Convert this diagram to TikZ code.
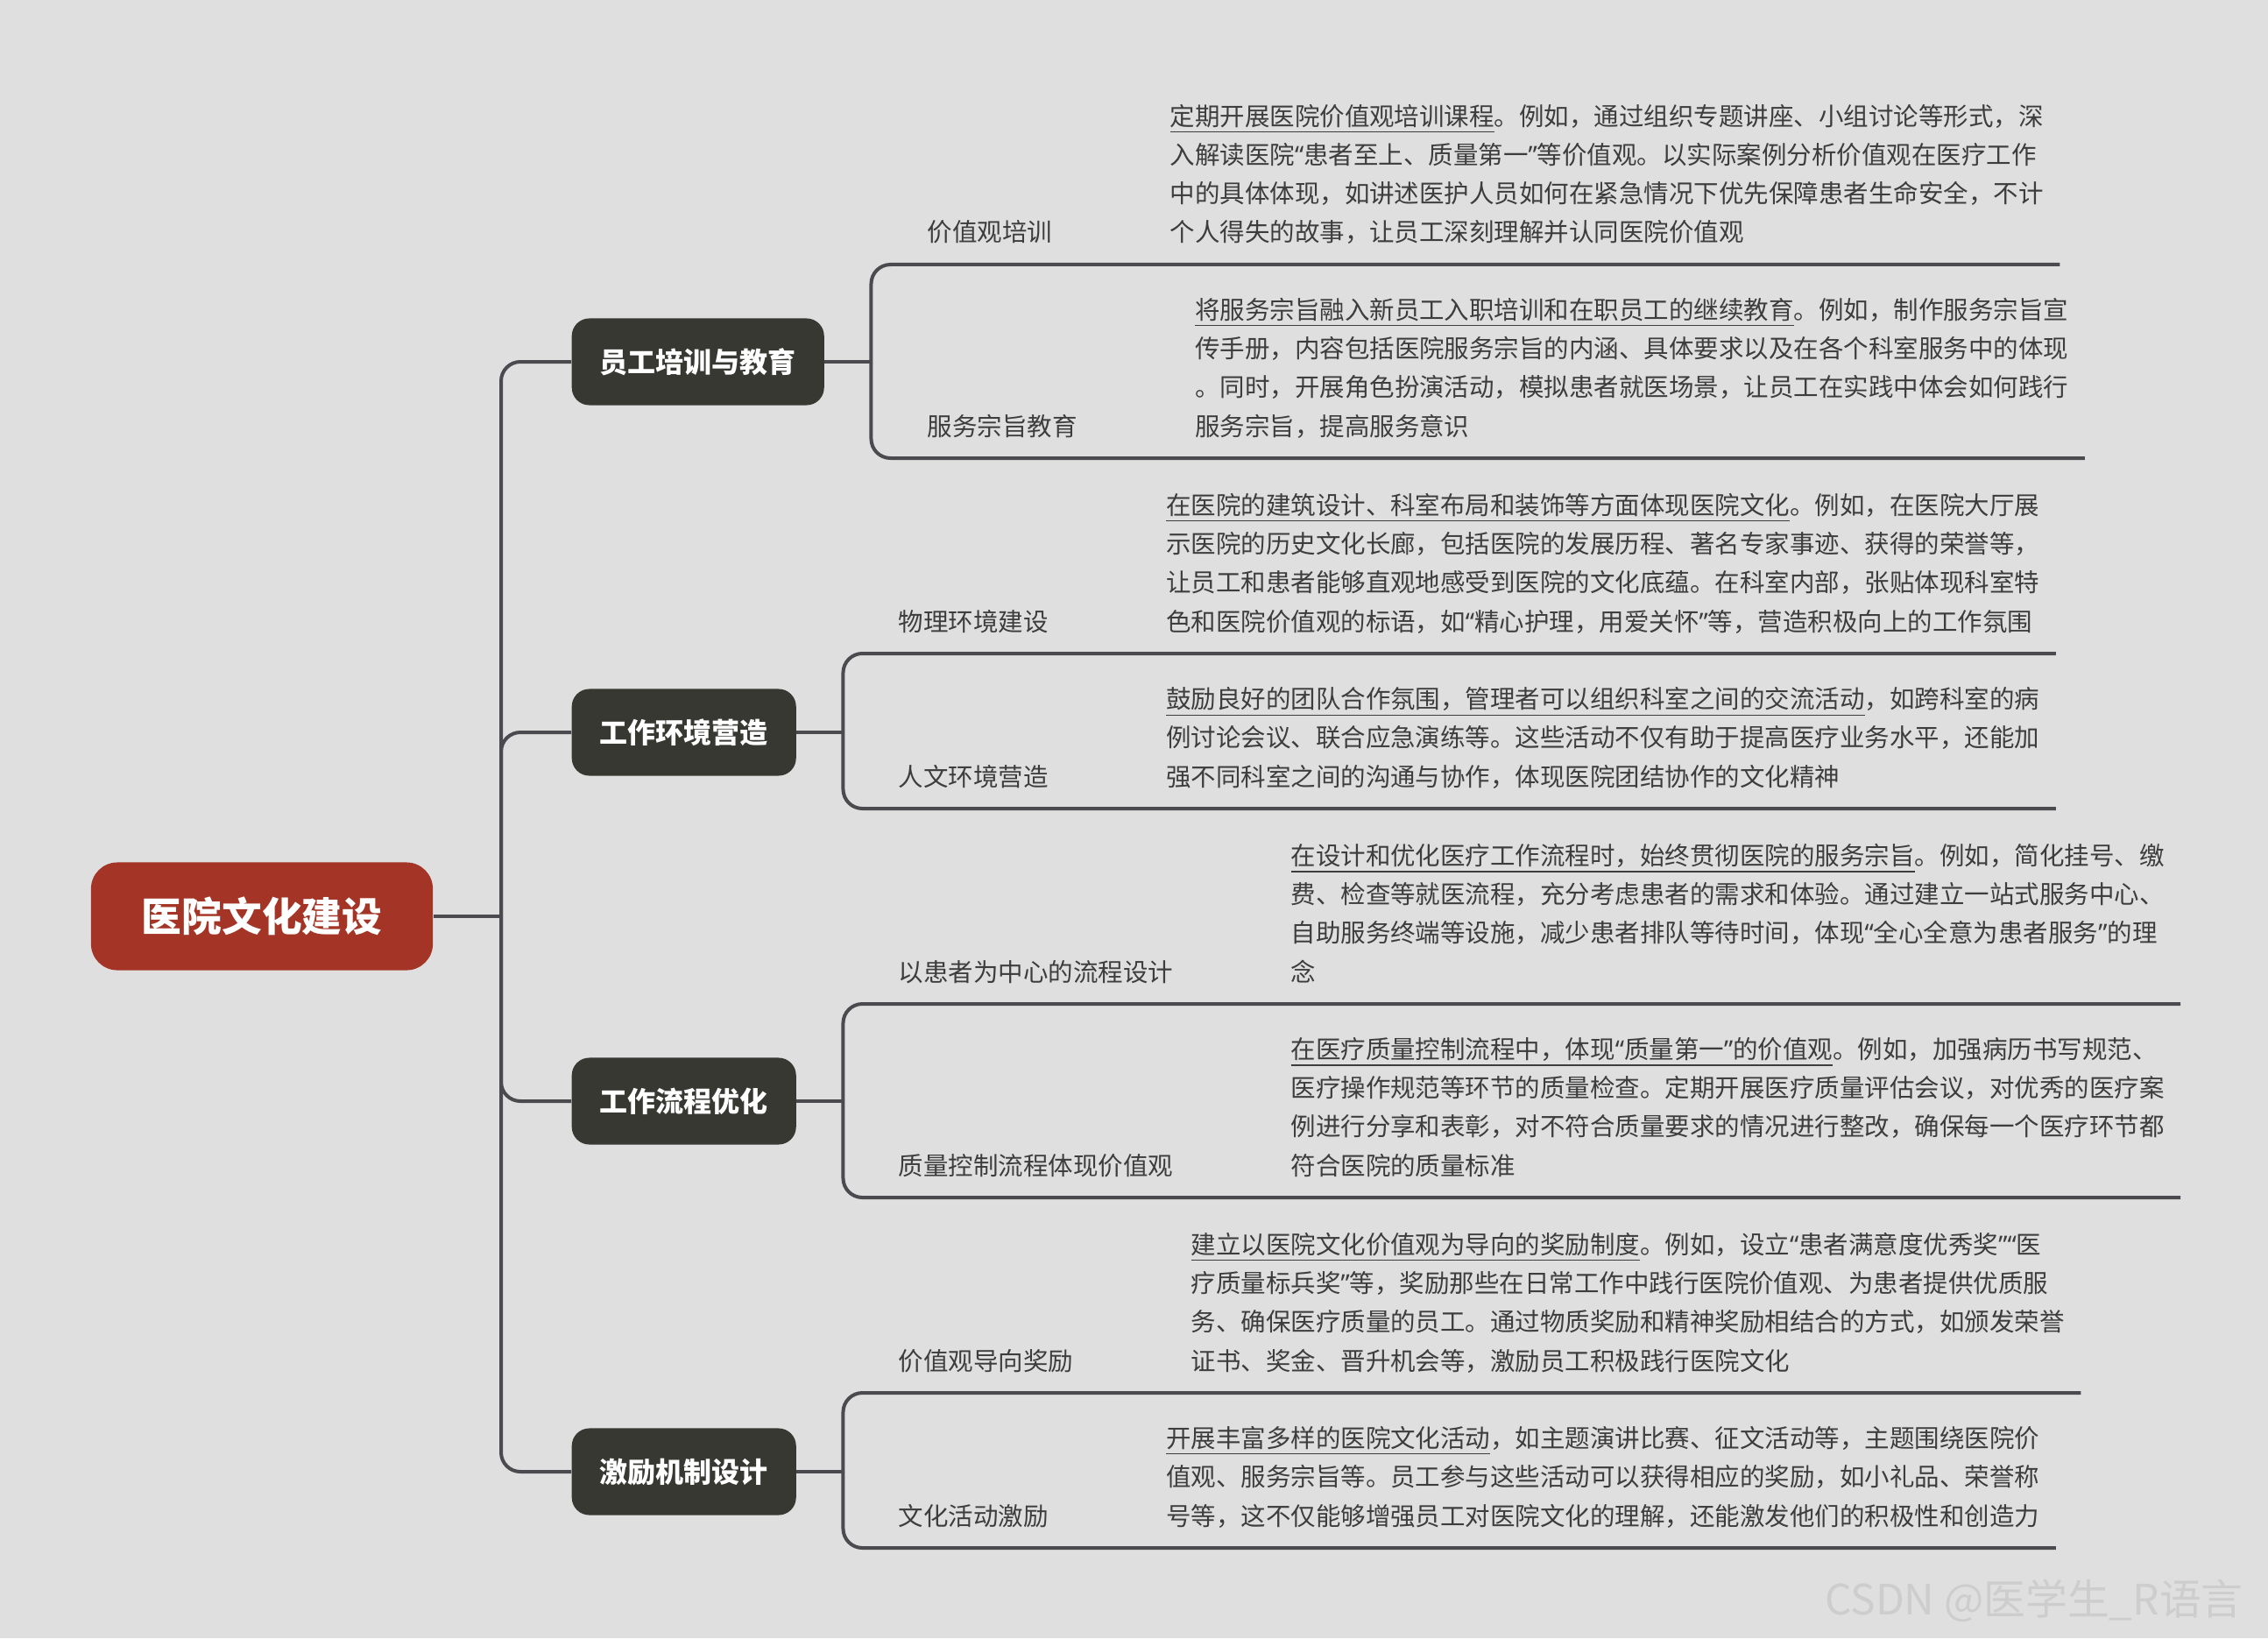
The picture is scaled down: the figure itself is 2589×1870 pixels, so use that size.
\documentclass[tikz,border=0pt]{standalone}
\usepackage{fontspec}
\setmainfont{Noto Sans CJK SC}
\newfontfamily\quotefont{Noto Sans}
\usetikzlibrary{positioning, calc}
\definecolor{cBg}{HTML}{DFDFDF}
\definecolor{cRoot}{HTML}{A43526}
\definecolor{cTopic}{HTML}{383833}
\definecolor{cLine}{HTML}{4A4A4F}
\definecolor{cText}{HTML}{3D3D3D}
\definecolor{cMark}{HTML}{CDCDCD}
\newcommand\leaffont{\fontsize{8.1pt}{12.6pt}\selectfont}
\newcommand\lqm{{\quotefont “}}
\newcommand\rqm{{\quotefont ”}}
\tikzset{
	root/.style     ={rectangle, rounded corners=0.3cm, fill=cRoot, text=white, font=\fontsize{13pt}{15pt}\selectfont\bfseries, minimum width=3.9cm, minimum height=1.23cm, inner sep=0pt},
	topic/.style    ={rectangle, rounded corners=0.2cm, fill=cTopic, text=white, font=\fontsize{9.1pt}{11pt}\selectfont\bfseries, minimum height=0.99cm, inner xsep=0.32cm, inner ysep=0pt, anchor=west},
	leaflabel/.style={anchor=base west, inner sep=0pt, text=cText, font=\leaffont},
	leaftext/.style ={inner sep=0pt, text=cText, font=\leaffont},
	branch/.style   ={draw=cLine, line width=0.04cm},
	elbow/.style    ={branch, rounded corners=0.22cm},
}

\begin{document}
\begin{tikzpicture}[x=0.01cm, y=-0.01cm]
	\fill[cBg] (0,0) rectangle (2589,1870);
	% root and main topics
	\node[root] (root) at (299,1046) {医院文化建设};
	\node[topic] (t1) at (652,413) {员工培训与教育};
	\node[topic] (t2) at (652,836) {工作环境营造};
	\node[topic] (t3) at (652,1257) {工作流程优化};
	\node[topic] (t4) at (652,1680) {激励机制设计};
	\coordinate (hub) at (572,1046);
	\draw[branch] (root.east) -- (hub);
	\foreach \t in {t1,t2,t3,t4} \draw[elbow] (hub) |- (\t.west);
	% labels of the sub topics
	\node[leaflabel] (l11) at (1058,276) {价值观培训};
	\node[leaflabel] (l12) at (1058,497) {服务宗旨教育};
	\node[leaflabel] (l21) at (1025,720) {物理环境建设};
	\node[leaflabel] (l22) at (1025,897) {人文环境营造};
	\node[leaflabel] (l31) at (1025,1120) {以患者为中心的流程设计};
	\node[leaflabel] (l32) at (1025,1341) {质量控制流程体现价值观};
	\node[leaflabel] (l41) at (1025,1564) {价值观导向奖励};
	\node[leaflabel] (l42) at (1025,1741) {文化活动激励};
	% notes
	\node[leaftext, base right=1.33cm of l11] (x11) {\begin{tabular}[b]{@{}l@{}}
\underline{定期开展医院价值观培训课程}。例如，通过组织专题讲座、小组讨论等形式，深\\
入解读医院\lqm 患者至上、质量第一\rqm 等价值观。以实际案例分析价值观在医疗工作\\
中的具体体现，如讲述医护人员如何在紧急情况下优先保障患者生命安全，不计\\
个人得失的故事，让员工深刻理解并认同医院价值观
\end{tabular}};
	\node[leaftext, base right=1.33cm of l12] (x12) {\begin{tabular}[b]{@{}l@{}}
\underline{将服务宗旨融入新员工入职培训和在职员工的继续教育}。例如，制作服务宗旨宣\\
传手册，内容包括医院服务宗旨的内涵、具体要求以及在各个科室服务中的体现\\
。同时，开展角色扮演活动，模拟患者就医场景，让员工在实践中体会如何践行\\
服务宗旨，提高服务意识
\end{tabular}};
	\node[leaftext, base right=1.33cm of l21] (x21) {\begin{tabular}[b]{@{}l@{}}
\underline{在医院的建筑设计、科室布局和装饰等方面体现医院文化}。例如，在医院大厅展\\
示医院的历史文化长廊，包括医院的发展历程、著名专家事迹、获得的荣誉等，\\
让员工和患者能够直观地感受到医院的文化底蕴。在科室内部，张贴体现科室特\\
色和医院价值观的标语，如\lqm 精心护理，用爱关怀\rqm 等，营造积极向上的工作氛围
\end{tabular}};
	\node[leaftext, base right=1.33cm of l22] (x22) {\begin{tabular}[b]{@{}l@{}}
\underline{鼓励良好的团队合作氛围，管理者可以组织科室之间的交流活动}，如跨科室的病\\
例讨论会议、联合应急演练等。这些活动不仅有助于提高医疗业务水平，还能加\\
强不同科室之间的沟通与协作，体现医院团结协作的文化精神
\end{tabular}};
	\node[leaftext, base right=1.33cm of l31] (x31) {\begin{tabular}[b]{@{}l@{}}
\underline{在设计和优化医疗工作流程时，始终贯彻医院的服务宗旨}。例如，简化挂号、缴\\
费、检查等就医流程，充分考虑患者的需求和体验。通过建立一站式服务中心、\\
自助服务终端等设施，减少患者排队等待时间，体现\lqm 全心全意为患者服务\rqm 的理\\
念
\end{tabular}};
	\node[leaftext, base right=1.33cm of l32] (x32) {\begin{tabular}[b]{@{}l@{}}
\underline{在医疗质量控制流程中，体现\lqm 质量第一\rqm 的价值观}。例如，加强病历书写规范、\\
医疗操作规范等环节的质量检查。定期开展医疗质量评估会议，对优秀的医疗案\\
例进行分享和表彰，对不符合质量要求的情况进行整改，确保每一个医疗环节都\\
符合医院的质量标准
\end{tabular}};
	\node[leaftext, base right=1.33cm of l41] (x41) {\begin{tabular}[b]{@{}l@{}}
\underline{建立以医院文化价值观为导向的奖励制度}。例如，设立\lqm 患者满意度优秀奖\rqm\lqm 医\\
疗质量标兵奖\rqm 等，奖励那些在日常工作中践行医院价值观、为患者提供优质服\\
务、确保医疗质量的员工。通过物质奖励和精神奖励相结合的方式，如颁发荣誉\\
证书、奖金、晋升机会等，激励员工积极践行医院文化
\end{tabular}};
	\node[leaftext, base right=1.33cm of l42] (x42) {\begin{tabular}[b]{@{}l@{}}
\underline{开展丰富多样的医院文化活动}，如主题演讲比赛、征文活动等，主题围绕医院价\\
值观、服务宗旨等。员工参与这些活动可以获得相应的奖励，如小礼品、荣誉称\\
号等，这不仅能够增强员工对医院文化的理解，还能激发他们的积极性和创造力
\end{tabular}};
	% brackets and underlines
	\foreach \g in {1,2,3,4} {
		\draw[branch] (t\g.east) -- ++(53,0) coordinate (b\g);
		\foreach \c in {1,2}
			\draw[elbow] (b\g) |- ($(x\g\c.base east)+(18,26)$);
	}
	\node[text=cMark, font=\fontsize{13.6pt}{16pt}\selectfont] (mark) at (2322,1827) {CSDN @医学生\_R语言};
\end{tikzpicture}
\end{document}
